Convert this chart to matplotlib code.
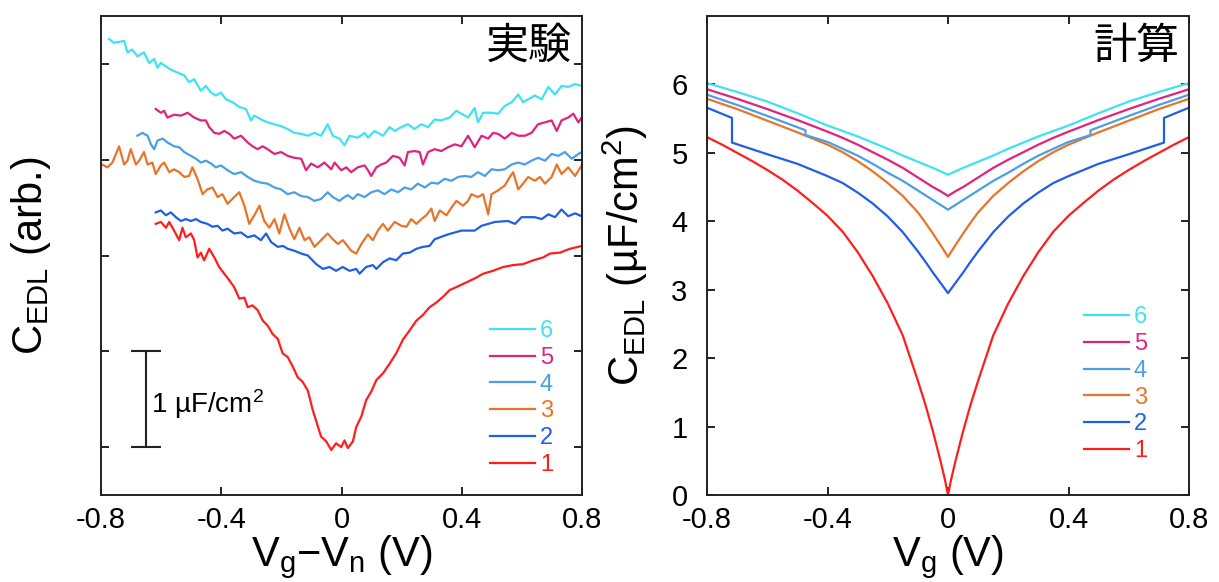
import matplotlib
matplotlib.use("Agg")
import matplotlib.pyplot as plt
from matplotlib import font_manager

# fonts
names = {f.name for f in font_manager.fontManager.ttflist}
narrow = 'Liberation Sans Narrow' if 'Liberation Sans Narrow' in names else 'Liberation Sans'
plt.rcParams['font.family'] = ['Liberation Sans', 'Noto Sans CJK JP', 'DejaVu Sans']
plt.rcParams['mathtext.fontset'] = 'custom'
plt.rcParams['mathtext.rm'] = 'Liberation Sans'
plt.rcParams['mathtext.default'] = 'regular'

colors = {1: '#ff1e1e', 2: '#1f5fe6', 3: '#e8742a', 4: '#4a9fe6', 5: '#e0237c', 6: '#3ee2f2'}

# ---- experiment (left), C in uF/cm^2 with arbitrary offsets ----
exp_v1 = [-0.618, -0.601, -0.584, -0.573, -0.557, -0.54, -0.529, -0.518, -0.501, -0.49, -0.479, -0.468,
          -0.457, -0.44, -0.423, -0.407, -0.39, -0.373, -0.357, -0.34, -0.323, -0.312, -0.296, -0.279,
          -0.262, -0.246, -0.229, -0.212, -0.196, -0.179, -0.162, -0.146, -0.129, -0.112, -0.096, -0.085,
          -0.068, -0.051, -0.034, -0.018, -0.001, 0.01, 0.021, 0.038, 0.049, 0.066, 0.082, 0.099, 0.116,
          0.138, 0.16, 0.182, 0.204, 0.227, 0.249, 0.271, 0.293, 0.316, 0.338, 0.36, 0.382, 0.416, 0.449,
          0.471, 0.504, 0.538, 0.571, 0.604, 0.638, 0.671, 0.693, 0.727, 0.76, 0.8]
exp_c1 = [2.33, 2.35, 2.29, 2.35, 2.26, 2.16, 2.29, 2.19, 2.23, 2.16, 1.98, 2.03,
          1.95, 2.07, 1.98, 1.88, 1.81, 1.74, 1.67, 1.55, 1.56, 1.46, 1.48, 1.43,
          1.32, 1.27, 1.18, 1.13, 0.98, 0.94, 0.84, 0.73, 0.68, 0.59, 0.39, 0.28,
          0.11, 0.06, -0.03, 0.04, 0.0, 0.07, -0.01, 0.06, 0.21, 0.32, 0.49, 0.58, 0.70,
          0.77, 0.87, 0.98, 1.12, 1.22, 1.32, 1.38, 1.46, 1.51, 1.57, 1.64, 1.67, 1.72, 1.77,
          1.81, 1.84, 1.88, 1.90, 1.91, 1.95, 1.98, 2.02, 2.03, 2.07, 2.10]

exp_v2 = [-0.618, -0.601, -0.584, -0.568, -0.551, -0.534, -0.518, -0.501, -0.484, -0.468, -0.446, -0.429,
          -0.412, -0.396, -0.379, -0.357, -0.334, -0.312, -0.29, -0.268, -0.251, -0.234, -0.212, -0.195,
          -0.179, -0.157, -0.134, -0.112, -0.084, -0.062, -0.04, -0.018, 0.004, 0.027, 0.049, 0.06, 0.082,
          0.104, 0.116, 0.138, 0.16, 0.182, 0.204, 0.227, 0.249, 0.271, 0.293, 0.31, 0.354, 0.399, 0.443,
          0.466, 0.51, 0.554, 0.577, 0.599, 0.643, 0.666, 0.688, 0.71, 0.732, 0.754, 0.777, 0.799]
exp_c2 = [2.45, 2.47, 2.42, 2.45, 2.40, 2.36, 2.38, 2.36, 2.38, 2.35, 2.33, 2.30,
          2.31, 2.26, 2.28, 2.23, 2.24, 2.19, 2.21, 2.16, 2.23, 2.14, 2.09, 2.10,
          2.07, 2.05, 2.02, 2.00, 1.91, 1.86, 1.88, 1.84, 1.88, 1.84, 1.86, 1.81, 1.88,
          1.90, 1.86, 1.93, 1.97, 1.95, 2.02, 2.03, 2.07, 2.09, 2.10, 2.17, 2.22, 2.26, 2.26,
          2.31, 2.35, 2.36, 2.33, 2.40, 2.40, 2.38, 2.43, 2.40, 2.48, 2.41, 2.44, 2.41]

exp_v3 = [-0.796, -0.779, -0.762, -0.74, -0.723, -0.712, -0.701, -0.684, -0.673, -0.657, -0.645, -0.629,
          -0.618, -0.601, -0.59, -0.573, -0.557, -0.54, -0.523, -0.507, -0.496, -0.479, -0.462, -0.446,
          -0.429, -0.412, -0.396, -0.379, -0.357, -0.34, -0.323, -0.307, -0.29, -0.273, -0.257, -0.24,
          -0.223, -0.207, -0.19, -0.173, -0.157, -0.14, -0.123, -0.107, -0.09, -0.068, -0.046, -0.029,
          -0.012, 0.004, 0.01, 0.032, 0.049, 0.066, 0.088, 0.104, 0.121, 0.138, 0.154, 0.177, 0.199,
          0.216, 0.232, 0.249, 0.266, 0.282, 0.299, 0.31, 0.327, 0.349, 0.366, 0.382, 0.404, 0.421,
          0.432, 0.454, 0.471, 0.488, 0.499, 0.521, 0.543, 0.56, 0.571, 0.588, 0.604, 0.621, 0.643,
          0.66, 0.677, 0.699, 0.716, 0.732, 0.754, 0.777, 0.799]
exp_c3 = [2.95, 2.92, 2.97, 3.14, 2.95, 2.99, 3.11, 2.95, 2.99, 3.08, 2.95, 2.97,
          2.85, 2.94, 2.97, 2.87, 2.90, 2.87, 2.82, 2.83, 2.92, 2.80, 2.64, 2.69,
          2.71, 2.61, 2.64, 2.54, 2.61, 2.66, 2.52, 2.33, 2.42, 2.52, 2.36, 2.29,
          2.38, 2.23, 2.43, 2.28, 2.17, 2.29, 2.16, 2.19, 2.09, 2.16, 2.23, 2.17,
          2.12, 2.16, 2.14, 2.05, 2.02, 2.12, 2.22, 2.16, 2.26, 2.33, 2.26, 2.35, 2.31,
          2.30, 2.38, 2.33, 2.38, 2.42, 2.49, 2.36, 2.47, 2.42, 2.50, 2.57, 2.52, 2.57,
          2.64, 2.61, 2.64, 2.43, 2.64, 2.68, 2.73, 2.82, 2.87, 2.69, 2.75, 2.82, 2.78,
          2.82, 2.75, 2.82, 2.95, 2.85, 2.92, 2.83, 2.94]

exp_v4 = [-0.679, -0.662, -0.645, -0.634, -0.623, -0.612, -0.595, -0.579, -0.557, -0.54, -0.523, -0.501,
          -0.484, -0.468, -0.451, -0.434, -0.418, -0.401, -0.379, -0.357, -0.334, -0.312, -0.29, -0.268,
          -0.246, -0.223, -0.201, -0.179, -0.157, -0.134, -0.112, -0.09, -0.068, -0.046, -0.029, -0.007,
          0.01, 0.021, 0.038, 0.054, 0.077, 0.099, 0.121, 0.143, 0.166, 0.188, 0.21, 0.232, 0.254, 0.277,
          0.299, 0.321, 0.343, 0.366, 0.388, 0.41, 0.432, 0.454, 0.477, 0.499, 0.521, 0.543, 0.566,
          0.588, 0.61, 0.632, 0.654, 0.677, 0.699, 0.721, 0.743, 0.766, 0.788, 0.799]
exp_c4 = [3.25, 3.28, 3.25, 3.16, 3.11, 3.20, 3.22, 3.18, 3.14, 3.13, 3.08, 3.04,
          3.01, 2.97, 2.99, 2.96, 2.92, 2.94, 2.89, 2.85, 2.87, 2.82, 2.78, 2.76,
          2.75, 2.71, 2.69, 2.64, 2.66, 2.62, 2.61, 2.57, 2.59, 2.66, 2.61, 2.57,
          2.61, 2.63, 2.59, 2.64, 2.61, 2.66, 2.68, 2.64, 2.69, 2.66, 2.71, 2.69, 2.75, 2.71,
          2.76, 2.75, 2.80, 2.78, 2.82, 2.83, 2.82, 2.87, 2.83, 2.90, 2.89, 2.90, 2.95,
          2.97, 2.95, 2.99, 3.02, 2.99, 3.06, 3.04, 3.08, 3.01, 3.06, 3.08]

exp_v5 = [-0.618, -0.601, -0.59, -0.579, -0.557, -0.534, -0.512, -0.49, -0.468, -0.451, -0.44, -0.423,
          -0.407, -0.39, -0.373, -0.357, -0.334, -0.312, -0.296, -0.279, -0.262, -0.246, -0.223, -0.201,
          -0.179, -0.157, -0.134, -0.118, -0.101, -0.079, -0.057, -0.034, -0.023, -0.001, 0.016, 0.032,
          0.054, 0.077, 0.088, 0.099, 0.116, 0.132, 0.149, 0.171, 0.193, 0.21, 0.221, 0.243, 0.26, 0.271,
          0.288, 0.31, 0.332, 0.354, 0.377, 0.399, 0.421, 0.443, 0.466, 0.488, 0.504, 0.521, 0.543,
          0.566, 0.588, 0.61, 0.632, 0.654, 0.677, 0.699, 0.716, 0.732, 0.754, 0.771, 0.788, 0.799]
exp_c5 = [3.53, 3.49, 3.51, 3.44, 3.47, 3.46, 3.49, 3.44, 3.41, 3.41, 3.34, 3.28,
          3.27, 3.30, 3.27, 3.22, 3.25, 3.18, 3.14, 3.11, 3.14, 3.11, 3.06, 3.08,
          3.04, 3.02, 3.01, 2.89, 2.96, 2.92, 2.97, 2.90, 2.97, 2.89, 2.92, 2.87,
          2.92, 2.94, 2.89, 2.83, 2.92, 2.95, 2.97, 3.04, 3.02, 2.94, 3.08, 3.09, 3.08, 2.95,
          3.08, 3.11, 3.09, 3.13, 3.16, 3.14, 3.25, 3.13, 3.25, 3.22, 3.28, 3.27, 3.22,
          3.28, 3.25, 3.25, 3.28, 3.37, 3.39, 3.41, 3.30, 3.41, 3.44, 3.48, 3.39, 3.44]

exp_v6 = [-0.773, -0.757, -0.74, -0.723, -0.712, -0.696, -0.679, -0.657, -0.64, -0.623, -0.612, -0.601,
          -0.568, -0.546, -0.523, -0.507, -0.49, -0.468, -0.451, -0.434, -0.418, -0.401, -0.384, -0.362,
          -0.34, -0.318, -0.301, -0.29, -0.268, -0.246, -0.223, -0.201, -0.179, -0.157, -0.134, -0.112,
          -0.09, -0.068, -0.046, -0.029, -0.007, 0.01, 0.027, 0.054, 0.077, 0.088, 0.11, 0.138, 0.16,
          0.177, 0.199, 0.221, 0.243, 0.266, 0.288, 0.31, 0.332, 0.36, 0.382, 0.399, 0.421, 0.443,
          0.454, 0.471, 0.499, 0.521, 0.543, 0.566, 0.588, 0.604, 0.621, 0.643, 0.666, 0.688, 0.71,
          0.732, 0.754, 0.777, 0.799]
exp_c6 = [4.26, 4.22, 4.23, 4.24, 4.12, 4.15, 4.08, 4.12, 4.01, 4.05, 3.96, 4.01,
          3.94, 3.91, 3.88, 3.81, 3.84, 3.72, 3.77, 3.70, 3.67, 3.70, 3.63, 3.60,
          3.55, 3.53, 3.41, 3.46, 3.42, 3.39, 3.37, 3.35, 3.32, 3.28, 3.27, 3.25,
          3.28, 3.25, 3.37, 3.25, 3.22, 3.15, 3.25, 3.23, 3.28, 3.23, 3.30, 3.25, 3.34,
          3.30, 3.34, 3.37, 3.32, 3.37, 3.34, 3.42, 3.41, 3.44, 3.51, 3.48, 3.44, 3.54,
          3.39, 3.49, 3.49, 3.48, 3.56, 3.60, 3.68, 3.60, 3.63, 3.67, 3.63, 3.76, 3.68,
          3.77, 3.76, 3.79, 3.77]

exp_v = {1: exp_v1, 2: exp_v2, 3: exp_v3, 4: exp_v4, 5: exp_v5, 6: exp_v6}
exp_c = {1: exp_c1, 2: exp_c2, 3: exp_c3, 4: exp_c4, 5: exp_c5, 6: exp_c6}

# ---- calculation (right) ----
calc_v1 = [-0.8, -0.75, -0.7, -0.65, -0.6, -0.55, -0.5, -0.45, -0.4, -0.35, -0.3, -0.25, -0.2, -0.15,
           -0.1, -0.075, -0.05, -0.025, -0.01, 0.0,
           0.01, 0.025, 0.05, 0.075, 0.1, 0.15, 0.2, 0.25, 0.3, 0.35, 0.4, 0.45, 0.5, 0.55, 0.6,
           0.65, 0.7, 0.75, 0.8]
calc_c1 = [5.23, 5.12, 5.00, 4.88, 4.75, 4.61, 4.45, 4.27, 4.08, 3.85, 3.55, 3.20, 2.80, 2.33,
           1.67, 1.32, 0.93, 0.50, 0.22, 0.0,
           0.22, 0.50, 0.93, 1.32, 1.67, 2.33, 2.80, 3.20, 3.55, 3.85, 4.08, 4.27, 4.45, 4.61, 4.75,
           4.88, 5.00, 5.12, 5.23]
calc_v2 = [-0.8, -0.75, -0.717, -0.717, -0.6, -0.5, -0.4, -0.35, -0.3, -0.25, -0.2, -0.15, -0.1,
           -0.075, -0.05, -0.025, 0.0,
           0.025, 0.05, 0.075, 0.1, 0.15, 0.2, 0.25, 0.3, 0.35, 0.4, 0.5, 0.6, 0.717, 0.717, 0.75, 0.8]
calc_c2 = [5.66, 5.57, 5.51, 5.15, 4.98, 4.84, 4.66, 4.56, 4.42, 4.26, 4.07, 3.84, 3.56,
           3.41, 3.25, 3.10, 2.95,
           3.10, 3.25, 3.41, 3.56, 3.84, 4.07, 4.26, 4.42, 4.56, 4.66, 4.84, 4.98, 5.15, 5.51, 5.57, 5.66]
calc_v3 = [-0.8, -0.7, -0.6, -0.5, -0.4, -0.35, -0.3, -0.25, -0.2, -0.15, -0.1, -0.075, -0.05, -0.02,
           0.0, 0.02, 0.05, 0.075, 0.1, 0.15, 0.2, 0.25, 0.3, 0.35, 0.4, 0.5, 0.6, 0.7, 0.8]
calc_c3 = [5.79, 5.64, 5.47, 5.30, 5.12, 5.01, 4.88, 4.73, 4.56, 4.37, 4.13, 3.98, 3.82, 3.62,
           3.48, 3.62, 3.82, 3.98, 4.13, 4.37, 4.56, 4.73, 4.88, 5.01, 5.12, 5.30, 5.47, 5.64, 5.79]
calc_v4 = [-0.8, -0.7, -0.6, -0.473, -0.473, -0.4, -0.35, -0.3, -0.25, -0.2, -0.15, -0.1, -0.05,
           -0.025, 0.0, 0.025, 0.05, 0.1, 0.15, 0.2, 0.25, 0.3, 0.35, 0.4, 0.473, 0.473, 0.6, 0.7, 0.8]
calc_c4 = [5.85, 5.70, 5.54, 5.33, 5.26, 5.16, 5.06, 4.96, 4.84, 4.71, 4.59, 4.45, 4.31,
           4.24, 4.17, 4.24, 4.31, 4.45, 4.59, 4.71, 4.84, 4.96, 5.06, 5.16, 5.26, 5.33, 5.54, 5.70, 5.85]
calc_v5 = [-0.8, -0.7, -0.6, -0.5, -0.4, -0.35, -0.3, -0.25, -0.2, -0.15, -0.1, -0.05, -0.025, 0.0,
           0.025, 0.05, 0.1, 0.15, 0.2, 0.25, 0.3, 0.35, 0.4, 0.5, 0.6, 0.7, 0.8]
calc_c5 = [5.93, 5.79, 5.64, 5.48, 5.31, 5.22, 5.12, 5.01, 4.90, 4.78, 4.64, 4.50, 4.44, 4.37,
           4.44, 4.50, 4.64, 4.78, 4.90, 5.01, 5.12, 5.22, 5.31, 5.48, 5.64, 5.79, 5.93]
calc_v6 = [-0.8, -0.7, -0.6, -0.5, -0.4, -0.35, -0.3, -0.25, -0.2, -0.15, -0.1, -0.05, -0.025, 0.0,
           0.025, 0.05, 0.1, 0.15, 0.2, 0.25, 0.3, 0.35, 0.4, 0.5, 0.6, 0.7, 0.8]
calc_c6 = [6.02, 5.89, 5.75, 5.58, 5.40, 5.32, 5.24, 5.15, 5.06, 4.96, 4.87, 4.78, 4.73, 4.68,
           4.73, 4.78, 4.87, 4.96, 5.06, 5.15, 5.24, 5.32, 5.40, 5.58, 5.75, 5.89, 6.02]

calc_v = {1: calc_v1, 2: calc_v2, 3: calc_v3, 4: calc_v4, 5: calc_v5, 6: calc_v6}
calc_c = {1: calc_c1, 2: calc_c2, 3: calc_c3, 4: calc_c4, 5: calc_c5, 6: calc_c6}

xticks = [-0.8, -0.4, 0, 0.4, 0.8]
xticklabels = ['-0.8', '-0.4', '0', '0.4', '0.8']

fig = plt.figure(figsize=(12.19, 5.82), dpi=100)
ax1 = fig.add_axes([101 / 1219, 87 / 582, 481 / 1219, 479 / 582])
ax2 = fig.add_axes([707 / 1219, 87 / 582, 482 / 1219, 479 / 582])

lw = 1.6
for n in range(1, 7):
    ax1.plot(exp_v[n], exp_c[n], color=colors[n], lw=lw, label=str(n))
    ax2.plot(calc_v[n], calc_c[n], color=colors[n], lw=lw, label=str(n))

for ax in (ax1, ax2):
    ax.set_xlim(-0.8, 0.8)
    ax.set_xticks(xticks)
    ax.set_xticklabels(xticklabels, fontfamily=narrow, fontsize=21)
    ax.tick_params(direction='in', top=True, right=True, length=6, width=1.4, color='#222222')
    ax.tick_params(axis='x', pad=8)
    for s in ax.spines.values():
        s.set_linewidth(1.4)
        s.set_color('#222222')
    h, l = ax.get_legend_handles_labels()
    ax.legend(h[::-1], l[::-1], loc='lower right', frameon=False, fontsize=17,
              labelcolor='linecolor', handlelength=1.9, handletextpad=0.2,
              labelspacing=0.2, borderpad=0, borderaxespad=0,
              bbox_to_anchor=(0.94, 0.04) if ax is ax1 else (0.913, 0.069))

# left panel
ax1.set_ylim(-0.5, 4.5)
ax1.set_yticks([0, 1, 2, 3, 4])
ax1.set_yticklabels([])
ax1.set_ylabel(r'C$_{\mathregular{EDL}}$ (arb.)', fontsize=30)
ax1.yaxis.set_label_coords(-0.1, 0.5)
ax1.set_xlabel(r'V$_{\mathregular{g}}$−V$_{\mathregular{n}}$ (V)', fontsize=30, fontfamily=narrow)
ax1.xaxis.set_label_coords(0.5, -0.08)
ax1.errorbar([-0.65], [0.5], yerr=[0.5], fmt='none', ecolor='#222222', elinewidth=1.5,
             capsize=11, capthick=1.5)
ax1.text(-0.635, 0.45, r'1 µF/cm$^{\mathregular{2}}$', fontsize=20, ha='left', va='center')
ax1.text(0.979, 0.981, '実験', transform=ax1.transAxes, ha='right', va='top',
         fontsize=31, family=['Noto Sans CJK JP', 'DejaVu Sans'])

# right panel
ax2.set_ylim(0, 7)
ax2.set_yticks([0, 1, 2, 3, 4, 5, 6])
ax2.tick_params(axis='y', labelsize=21, pad=14)
ax2.set_ylabel(r'C$_{\mathregular{EDL}}$ (µF/cm$^{\mathregular{2}}$)', fontsize=30)
ax2.yaxis.set_label_coords(-0.118, 0.5)
ax2.set_xlabel(r'V$_{\mathregular{g}}$ (V)', fontsize=30, fontfamily=narrow)
ax2.xaxis.set_label_coords(0.5, -0.08)
ax2.text(0.981, 0.981, '計算', transform=ax2.transAxes, ha='right', va='top',
         fontsize=31, family=['Noto Sans CJK JP', 'DejaVu Sans'])

fig.savefig('out.png', dpi=100)
